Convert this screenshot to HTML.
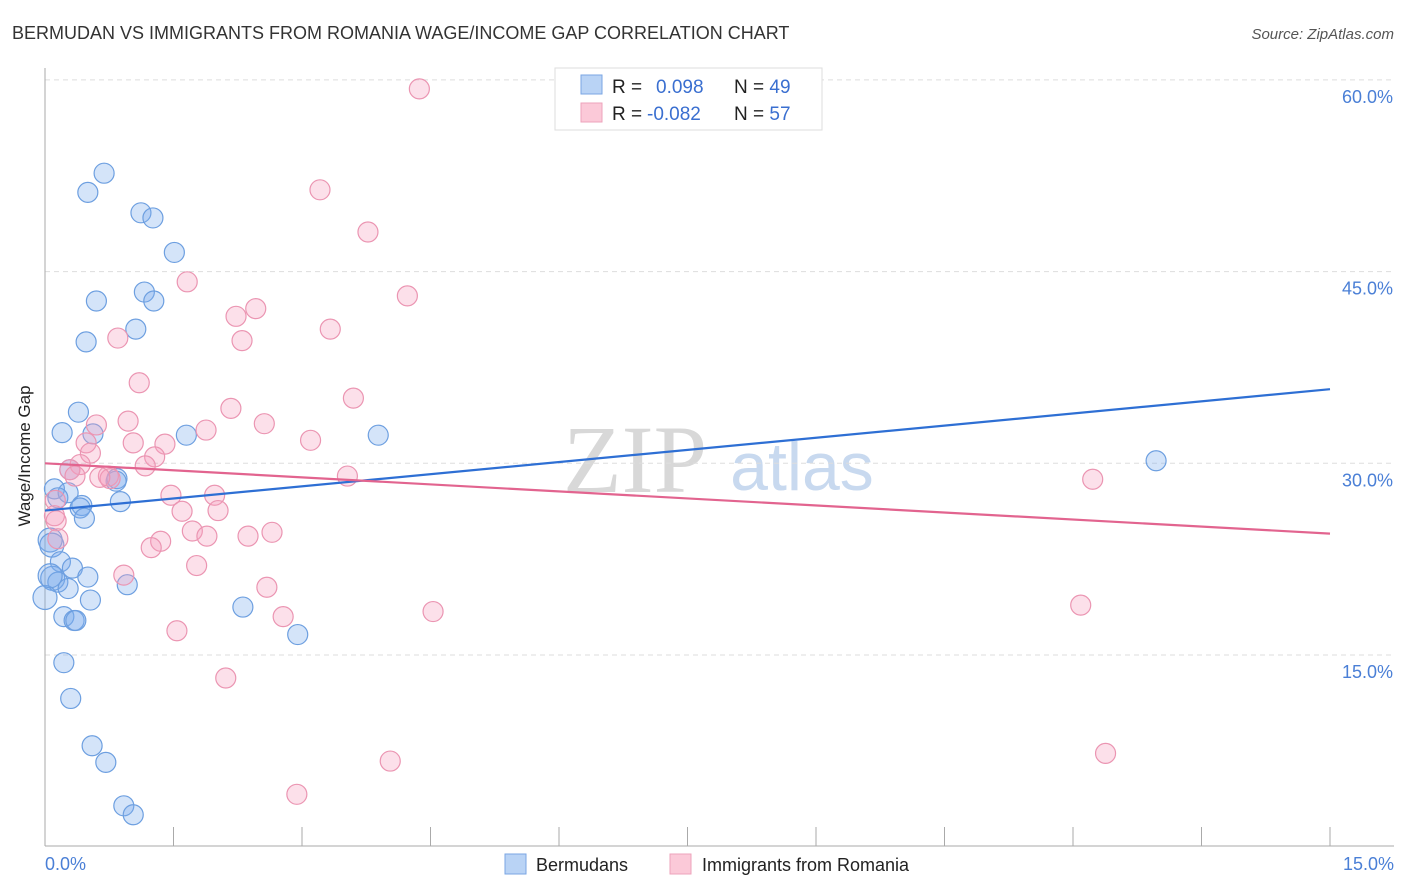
<!DOCTYPE html>
<html><head><meta charset="utf-8"><style>
body{margin:0;background:#fff;font-family:"Liberation Sans",sans-serif;}
svg{display:block}
</style></head><body>
<svg width="1406" height="892" id="c">
<text x="12" y="39" font-size="18" fill="#333">BERMUDAN VS IMMIGRANTS FROM ROMANIA WAGE/INCOME GAP CORRELATION CHART</text>
<text x="1394" y="39" font-size="15" fill="#555" font-style="italic" text-anchor="end">Source: ZipAtlas.com</text>
<text x="635" y="492" font-size="96" fill="#d8d8d8" font-family="Liberation Serif,serif" text-anchor="middle">ZIP</text>
<text x="802" y="490" font-size="68" fill="#c8d9ef" text-anchor="middle">atlas</text>
<g id="grid"></g><g id="axes"></g><g id="pts"></g><g id="trend"></g>
<text x="30" y="456" font-size="17" fill="#222" text-anchor="middle" transform="rotate(-90 30 456)">Wage/Income Gap</text>
<g>
<rect x="555" y="68" width="267" height="62" fill="#fff" stroke="#ddd"/>
<rect x="581" y="75" width="21" height="19" fill="#b9d3f5" stroke="#7aa6e3"/>
<rect x="581" y="103" width="21" height="19" fill="#fbc9d8" stroke="#eea3bb"/>
<text x="612" y="93" font-size="19" fill="#222">R = <tspan fill="#3a6fd0" x="656">0.098</tspan><tspan x="734" fill="#222">N = </tspan><tspan fill="#3a6fd0">49</tspan></text>
<text x="612" y="120" font-size="19" fill="#222">R = <tspan fill="#3a6fd0" x="647">-0.082</tspan><tspan x="734" fill="#222">N = </tspan><tspan fill="#3a6fd0">57</tspan></text>
</g>
<g>
<rect x="505" y="854" width="21" height="20" fill="#b9d3f5" stroke="#7aa6e3"/>
<text x="536" y="871" font-size="18" fill="#222">Bermudans</text>
<rect x="670" y="854" width="21" height="20" fill="#fbc9d8" stroke="#eea3bb"/>
<text x="702" y="871" font-size="18" fill="#222">Immigrants from Romania</text>
</g>
</svg>
<script>
const yTicks=[15,30,45,60];
const yTickLabels=["15.0%","30.0%","45.0%","60.0%"];
const xTickLabels=["0.0%","15.0%"];
const blueX=[.69,.50,1.12,1.26,1.51,1.16,1.27,.60,1.06,.48,.39,.20,.56,1.65,3.89,12.97,.29,.84,.83,.11,.27,.15,.88,.43,.41,.46,.06,.08,.18,.32,.09,.50,.15,.27,.96,0,.53,.22,.34,.36,2.31,2.95,.22,.30,.55,.71,.92,1.03,.06];
const blueY=[52.7,51.2,49.6,49.2,46.5,43.4,42.7,42.7,40.5,39.5,34.0,32.4,32.3,32.2,32.2,30.2,29.5,28.8,28.6,28.0,27.7,27.3,27.0,26.7,26.5,25.7,24.0,23.6,22.3,21.8,21.0,21.1,20.7,20.2,20.5,19.5,19.3,18.0,17.7,17.7,18.75,16.6,14.4,11.6,7.9,6.6,3.2,2.5,21.2];
const pinkX=[4.37,3.21,3.77,1.66,4.23,2.46,2.23,3.33,2.30,.85,1.10,3.60,2.17,.97,2.56,.60,1.88,3.10,1.03,1.40,.48,.53,1.28,.41,1.17,.29,.74,.76,.64,3.53,12.23,.35,1.47,1.98,.12,1.60,2.02,.11,.13,1.72,1.89,2.37,2.65,.15,1.35,1.24,1.77,.92,2.59,4.53,12.09,2.78,1.54,2.11,12.38,4.03,2.94];
const pinkY=[59.3,51.4,48.1,44.2,43.1,42.1,41.5,40.5,39.6,39.8,36.3,35.1,34.3,33.3,33.1,33.0,32.6,31.8,31.6,31.5,31.6,30.8,30.5,29.9,29.8,29.5,29.0,28.8,28.9,29.0,28.75,29.0,27.5,27.5,27.1,26.25,26.3,25.9,25.5,24.7,24.3,24.3,24.6,24.1,23.9,23.4,22.0,21.25,20.3,18.4,18.9,18.0,16.9,13.2,7.3,6.7,4.1];
const blueTrend=[26.3,35.8];
const pinkTrend=[30.0,24.5];
const trendX=[0,15];
const NS="http://www.w3.org/2000/svg";
const sx=v=>45+v/15*1285, sy=v=>846.7-v/15*191.7;
function mk(t,a,p){const e=document.createElementNS(NS,t);for(const k in a)e.setAttribute(k,a[k]);document.getElementById(p).appendChild(e);return e;}
yTicks.forEach((t,i)=>{
 const l=mk('line',{x1:45,x2:1394,y1:sy(t),y2:sy(t),stroke:'#ddd','stroke-dasharray':'5,4'},'grid');
 
 
 const tx=mk('text',{x:1393,y:sy(t)+23,'font-size':18,fill:'#4a7fd6','text-anchor':'end'},'grid');
 tx.textContent=yTickLabels[i];
 
 
});
let a=mk('line',{x1:45,x2:45,y1:68,y2:846,stroke:'#aaa'},'axes');


a=mk('line',{x1:45,x2:1394,y1:846,y2:846,stroke:'#aaa'},'axes');


for(let i=0;i<=10;i++){
 const t=mk('line',{x1:sx(i*1.5),x2:sx(i*1.5),y1:827,y2:846,stroke:'#aaa'},'axes');
 
 
}
[[0,'start',45],[15,'end',1394]].forEach((d,i)=>{
 const t=mk('text',{x:d[2],y:870,'font-size':18,fill:'#4a7fd6','text-anchor':d[1]},'axes');
 t.textContent=xTickLabels[i];
 
 
});
function pts(X,Y,fill,stroke,name){
 X.forEach((x,i)=>{
  const c=mk('circle',{cx:sx(x),cy:sy(Y[i]),r:x<0.1?12:10,fill:fill,stroke:stroke,'stroke-width':1.2},'pts');
  
  
 });
}
pts(blueX,blueY,'rgba(120,170,235,0.32)','#6d9fe0','bermudan-point');
pts(pinkX,pinkY,'rgba(245,160,190,0.32)','#eb95b2','romania-point');
let tl=mk('line',{x1:sx(trendX[0]),y1:sy(blueTrend[0]),x2:sx(trendX[1]),y2:sy(blueTrend[1]),stroke:'#2e6fd4','stroke-width':2.2},'trend');


tl=mk('line',{x1:sx(trendX[0]),y1:sy(pinkTrend[0]),x2:sx(trendX[1]),y2:sy(pinkTrend[1]),stroke:'#e2648f','stroke-width':2.2},'trend');


</script>
</body></html>
